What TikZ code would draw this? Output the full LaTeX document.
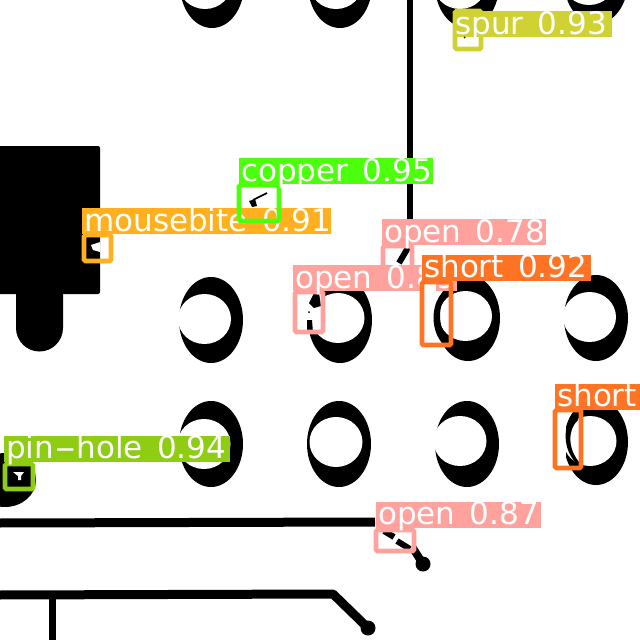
\documentclass[tikz,border=0pt]{standalone}
\usepackage{fontspec}
\setmainfont{DejaVu Sans}
\definecolor{cpink}{HTML}{FFA29E}
\definecolor{corange}{HTML}{FF7424}
\definecolor{camber}{HTML}{FFB01F}
\definecolor{cgreen}{HTML}{4CFF0A}
\definecolor{colive}{HTML}{8FCC14}
\definecolor{cyellow}{HTML}{CFD232}
\newcommand{\wgap}{\hspace{4.5pt}}
\tikzset{
  x=1pt,y=-1pt,
  lbltext/.style={text=white,inner sep=0pt,anchor=base west,font=\fontsize{31}{31}\selectfont},
  boxline/.style={line width=4.6pt,rounded corners=1.5pt},
  trace/.style={line width=9pt,black,line join=round},
}
% color, box x1 y1 x2 y2, label x1 y1 x2 y2, name, text
\newcommand{\detbox}[8]{%
  \draw[boxline,draw=#1] (#2) rectangle (#3);
  \fill[#1] (#4) rectangle (#5);
  \node[lbltext] (#6) at (#7) {#8};
}
\newcommand{\hole}[4]{%
  \fill[black] (#1,#2) ellipse [x radius=32,y radius=43];
  \fill[white] (#3,#4) ellipse [x radius=26.5,y radius=25];
}
\begin{document}
\begin{tikzpicture}
\clip (0,0) rectangle (640,640);
\fill[white] (0,0) rectangle (640,640);
% pad
\fill[black,rounded corners=2pt] (-5,146) rectangle (100,294);
\fill[black] (16,290) -- (16,328) arc [start angle=180,end angle=360,x radius=23.5,y radius=-23.5] -- (63,290) -- cycle;
% holes
\hole{212}{-15}{205}{-16}
\hole{340}{-15}{336}{-16}
\hole{467}{-15}{460}{-16}
\hole{596}{-19}{589}{-20}
\hole{211}{320}{204.5}{319}
\hole{340}{320}{338}{318}
\hole{468}{318}{465.5}{316}
\hole{596}{318}{589.5}{317}
\hole{211}{444}{204}{444}
\hole{339}{444}{336}{442}
\hole{467}{444}{460}{441}
\hole{596}{442}{590}{441}
\fill[black] (5,480) ellipse [x radius=31,y radius=27];
\fill[black] (5,463) rectangle (32,488);
% traces
\draw[line width=6pt] (409.5,-2) -- (409.5,240);
\draw[trace] (-2,523) -- (375,522);
\draw[trace] (-2,595) -- (333,594) -- (368,628);
\draw[line width=7pt] (52,595) -- (52,642);
\fill[black] (368,628) circle [radius=7.5];
\draw[trace,line width=8pt] (409,542) -- (423,564);
\fill[black] (423,564) circle [radius=7.5];
% spur
\detbox{cyellow}{455,11}{481,49}{453,11}{612,37}{spurl}{455,34}{spur \wgap 0.93}
\fill[black] (464.5,37.5) circle [radius=1];
% mousebite
\fill[black] (84,235) rectangle (100,262);
\detbox{camber}{84,235}{111,261}{82,208}{331,234}{mbl}{84,231}{mousebite \wgap 0.91}
\fill[white] (91,245) -- (100,242) -- (100,252) -- (93,250) -- cycle;
% copper
\detbox{cgreen}{239,185}{279,221}{239,158}{433,184}{cul}{241,181}{copper \wgap 0.95}
\draw[line width=1.6pt] (267,193) -- (253,200);
\fill[black] (249,201) -- (255,199) -- (257,206) -- (252,207) -- cycle;
% open 0.78
\fill[white] (383,247) rectangle (411,270);
\draw[line width=6pt] (409,246) -- (399,263);
\detbox{cpink}{383,246}{412,272}{382,219}{546,245}{ol}{384,242}{open \wgap 0.78}
% open 0.89
\fill[white] (294,292) rectangle (323,332);
\fill[black] (319,293) -- (321,306) -- (314,308) -- (309,303) -- (314,293) -- cycle;
\fill[black] (307,320) -- (312,320) -- (313,333) -- (307,333) -- cycle;
\fill[black] (309,312) circle [radius=1];
\detbox{cpink}{295,292}{323,332}{293,265}{457,291}{opl}{295,288}{open \wgap 0.89}
% short 0.92
\fill[white] (423,283) rectangle (436,344);
\fill[black] (442,293) .. controls (431,305) and (430,330) .. (443,344) -- (448,340) .. controls (437,325) and (438,305) .. (447,295) -- cycle;
\detbox{corange}{422,282}{451,345}{422,255}{591,281}{shl}{424,277}{short \wgap 0.92}
% short lower
\fill[white] (556,411) rectangle (566,467);
\fill[black] (574,411) .. controls (563,425) and (561,450) .. (579,466) -- (580,463) .. controls (568,450) and (567,430) .. (578,420) -- cycle;
\detbox{corange}{555,410}{581,468}{555,384}{640,410}{shbl}{557,406}{short}
% open 0.87
\fill[white] (376,530) rectangle (414,551);
\draw[line width=6pt] (384,531) -- (394,537);
\draw[line width=6pt] (397,541) -- (410,549);
\detbox{cpink}{376,530}{414,551}{376,502}{541,528}{o87l}{378,524}{open \wgap 0.87}
% pin-hole
\detbox{colive}{5,464}{33,489}{4,436}{230,462}{phl}{6,458}{pin\scalebox{2}[1]{-}hole \wgap 0.94}
\fill[white] (13,472) -- (24,472) -- (21,476) -- (21,480) -- (18,480) -- (18,476) -- cycle;
\end{tikzpicture}
\end{document}
